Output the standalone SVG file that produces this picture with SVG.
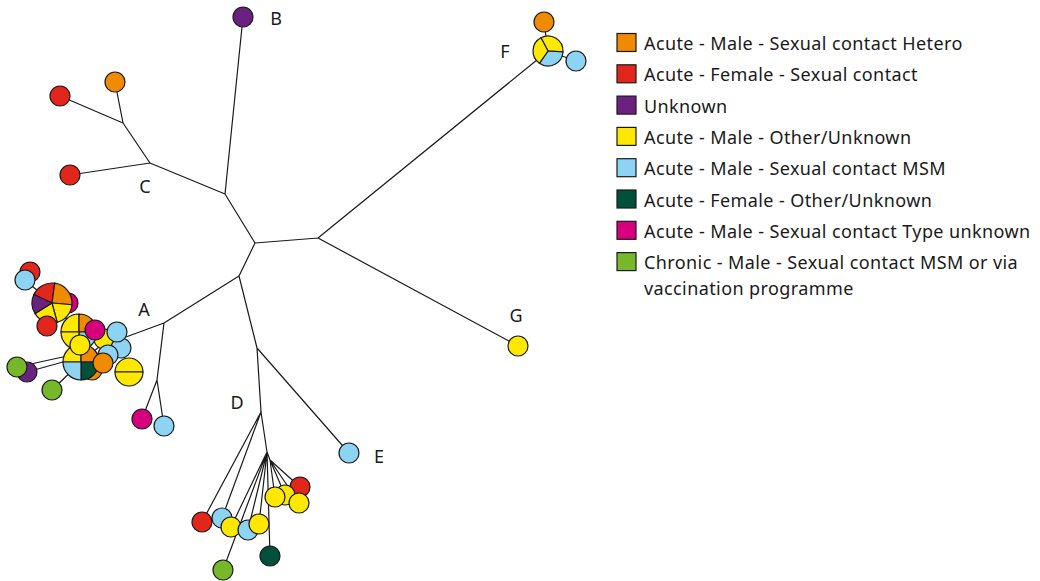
<svg xmlns="http://www.w3.org/2000/svg" width="1040" height="581" viewBox="0 0 1040 581">
<style>
.e{stroke:#1a1a1a;stroke-width:1.2;fill:none;stroke-linecap:round}
.n{stroke:#1a1a1a;stroke-width:1.2}
.or{fill:#F08A00}.rd{fill:#E2261C}.pu{fill:#6B2180}.ye{fill:#FFE800}.bl{fill:#8DD3F3}.dg{fill:#00503C}.mg{fill:#D6007E}.gr{fill:#76B82A}
.lbl{font-family:"Noto Sans","Open Sans",sans-serif;font-size:18px;fill:#1a1a1a;text-anchor:middle}
.lg{font-family:"Noto Sans","Open Sans",sans-serif;font-size:18px;letter-spacing:0.4px;fill:#1a1a1a}
</style>
<rect width="1040" height="581" fill="#fff"/>
<g id="connectors">
<path class="e" d="M255,243L318,238M318,238L548,51M318,238L518,346M255,243L225,194M225,194L243,17M225,194L150,163M150,163L70,175M150,163L123,123M123,123L60,96M123,123L115,82M255,243L239,276M239,276L164,323M164,323L115,341M164,323L157,380M157,380L142,419M157,380L164,426M239,276L257,348M257,348L349,453M257,348L261,412"/>
<path class="e" d="M261,412L202,522M261,412L222,518M261,412L267,452M267,452L231,527M267,452L248,530M267,452L259,524M267,452L223,570M267,452L270,556M267,452L270,460M270,460L275,497M270,460L285,495M270,460L300,487M270,460L299,503"/>
<path class="e" d="M25,280L52,303M52,303L79,332M17,367L81,353M27,372L81,357M52,390L81,362M81,362L117,332M81,362L121,348M81,362L108,355M544,22L548,51M548,51L576,61"/>
</g>
<g id="node-B"><circle class="n pu" cx="243" cy="17" r="10"/><text class="lbl" x="276" y="25">B</text></g>
<g id="node-C">
<circle class="n rd" cx="60" cy="96" r="10"/>
<circle class="n or" cx="115" cy="82" r="10"/>
<circle class="n rd" cx="70" cy="175" r="10"/>
<text class="lbl" x="145" y="193">C</text>
</g>
<g id="node-F">
<circle class="n or" cx="544" cy="22" r="10"/>
<circle class="n bl" cx="576" cy="61" r="10"/>
<path class="n ye" d="M548,51L540.96,37.76A15,15 0 0 1 562.98,51.78Z"/>
<path class="n bl" d="M548,51L562.98,51.78A15,15 0 0 1 539.4,63.29Z"/>
<path class="n ye" d="M548,51L539.4,63.29A15,15 0 0 1 540.96,37.76Z"/>
<text class="lbl" x="505" y="58">F</text>
</g>
<g id="node-G"><circle class="n ye" cx="518" cy="346" r="10"/><text class="lbl" x="516" y="322">G</text></g>
<g id="node-E"><circle class="n bl" cx="349" cy="453" r="10"/><text class="lbl" x="379" y="463">E</text></g>
<g id="node-A">
<circle class="n rd" cx="30" cy="272" r="10"/>
<circle class="n bl" cx="25" cy="280" r="10"/>
<circle class="n mg" cx="68" cy="303" r="10"/>
<path class="n rd" d="M52,303L33.87,294.55A20,20 0 0 1 54.78,283.19Z"/>
<path class="n or" d="M52,303L54.78,283.19A20,20 0 0 1 71.92,304.74Z"/>
<path class="n ye" d="M52,303L71.92,304.74A20,20 0 0 1 57.18,322.32Z"/>
<path class="n ye" d="M52,303L57.18,322.32A20,20 0 0 1 35.04,313.6Z"/>
<path class="n pu" d="M52,303L35.04,313.6A20,20 0 0 1 33.87,294.55Z"/>
<circle class="n rd" cx="47" cy="326" r="10"/>
<circle class="n pu" cx="27" cy="372" r="10"/>
<circle class="n gr" cx="17" cy="367" r="10"/>
<circle class="n gr" cx="52" cy="390" r="10"/>
<circle class="n ye" cx="104" cy="339" r="10"/>
<circle class="n bl" cx="121" cy="348" r="10"/>
<circle class="n bl" cx="108" cy="355" r="10"/>
<circle class="n bl" cx="117" cy="332" r="10"/>
<circle class="n or" cx="92" cy="370" r="10"/>
<path class="n ye" d="M79,332L61,332A18,18 0 0 1 79,314Z"/>
<path class="n or" d="M79,332L79,314A18,18 0 0 1 97,332Z"/>
<path class="n bl" d="M79,332L97,332A18,18 0 0 1 79,350Z"/>
<path class="n ye" d="M79,332L79,350A18,18 0 0 1 61,332Z"/>
<circle class="n mg" cx="95" cy="330" r="10"/>
<path class="n ye" d="M81,362L63,362A18,18 0 0 1 81,344Z"/>
<path class="n or" d="M81,362L81,344A18,18 0 0 1 99,362Z"/>
<path class="n dg" d="M81,362L99,362A18,18 0 0 1 81,380Z"/>
<path class="n bl" d="M81,362L81,380A18,18 0 0 1 63,362Z"/>
<circle class="n ye" cx="80" cy="345" r="10"/>
<circle class="n or" cx="103" cy="363" r="10"/>
<path class="n ye" d="M115,372A14,14 0 0 1 143,372Z"/>
<path class="n ye" d="M143,372A14,14 0 0 1 115,372Z"/>
<circle class="n mg" cx="142" cy="419" r="10"/>
<circle class="n bl" cx="164" cy="426" r="10"/>
<text class="lbl" x="144" y="316">A</text>
</g>
<g id="node-D">
<circle class="n rd" cx="202" cy="522" r="10"/>
<circle class="n bl" cx="222" cy="518" r="10"/>
<circle class="n ye" cx="231" cy="527" r="10"/>
<circle class="n bl" cx="248" cy="530" r="10"/>
<circle class="n ye" cx="259" cy="524" r="10"/>
<circle class="n gr" cx="223" cy="570" r="10"/>
<circle class="n dg" cx="270" cy="556" r="10"/>
<circle class="n rd" cx="300" cy="487" r="10"/>
<circle class="n ye" cx="285" cy="495" r="10"/>
<circle class="n ye" cx="275" cy="497" r="10"/>
<circle class="n ye" cx="299" cy="503" r="10"/>
<text class="lbl" x="237" y="409">D</text>
</g>
<g id="legend">
<rect class="n or" x="617" y="33.5" width="19" height="18"/>
<text class="lg" x="644" y="50">Acute - Male - Sexual contact Hetero</text>
<rect class="n rd" x="617" y="64.8" width="19" height="18"/>
<text class="lg" x="644" y="81.3">Acute - Female - Sexual contact</text>
<rect class="n pu" x="617" y="96.1" width="19" height="18"/>
<text class="lg" x="644" y="112.6">Unknown</text>
<rect class="n ye" x="617" y="127.4" width="19" height="18"/>
<text class="lg" x="644" y="143.9">Acute - Male - Other/Unknown</text>
<rect class="n bl" x="617" y="158.7" width="19" height="18"/>
<text class="lg" x="644" y="175.2">Acute - Male - Sexual contact MSM</text>
<rect class="n dg" x="617" y="190" width="19" height="18"/>
<text class="lg" x="644" y="206.5">Acute - Female - Other/Unknown</text>
<rect class="n mg" x="617" y="221.3" width="19" height="18"/>
<text class="lg" x="644" y="237.8">Acute - Male - Sexual contact Type unknown</text>
<rect class="n gr" x="617" y="252.6" width="19" height="18"/>
<text class="lg" x="644" y="269.1">Chronic - Male - Sexual contact MSM or via</text>
<text class="lg" x="644" y="294.8">vaccination programme</text>
</g>
</svg>
